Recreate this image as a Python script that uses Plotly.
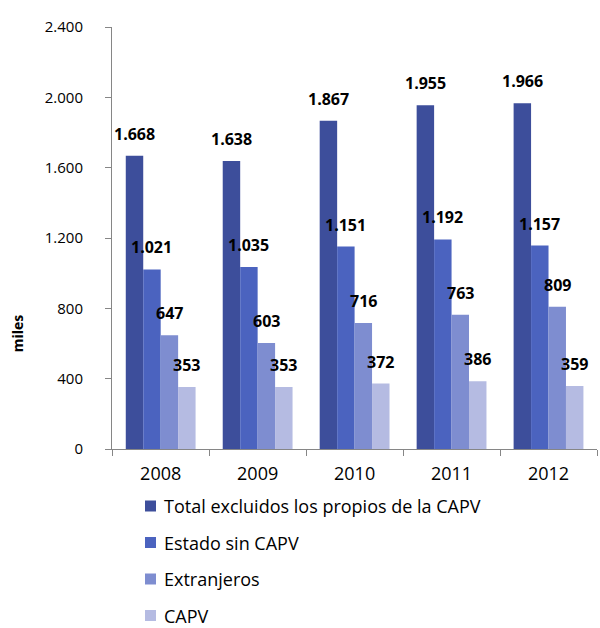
import plotly.graph_objects as go

years = ["2008", "2009", "2010", "2011", "2012"]
total_excl = [1668, 1638, 1867, 1955, 1966]
estado = [1021, 1035, 1151, 1192, 1157]
extranjeros = [647, 603, 716, 763, 809]
capv = [353, 353, 372, 386, 359]

series_names = ["Total excluidos los propios de la CAPV", "Estado sin CAPV", "Extranjeros", "CAPV"]
series_values = [total_excl, estado, extranjeros, capv]
colors = ["#3D4E9B", "#4B63BF", "#7E8DD0", "#B5BBE2"]

FONT = "Open Sans"
BARGAP = 0.28
n_series = len(series_values)
bar_w = (1 - BARGAP) / n_series

# figure geometry in pixels
W, H = 600, 628
M_L, M_R, M_T, M_B = 112, 3, 27, 179
PLOT_W = W - M_L - M_R
PLOT_H = H - M_T - M_B


def px_to_paper(px, py):
    return (px - M_L) / PLOT_W, (H - M_B - py) / PLOT_H


fig = go.Figure()
for i, (name, vals, col) in enumerate(zip(series_names, series_values, colors)):
    fig.add_trace(go.Bar(
        x=years, y=vals, name=name,
        marker=dict(color=col, line=dict(width=0)),
        showlegend=False,
    ))
    # value labels above each bar, centred on the bar
    offset = -(1 - BARGAP) / 2 + bar_w * (i + 0.5)
    for j, v in enumerate(vals):
        fig.add_annotation(
            x=j + offset, y=v, xref="x", yref="y",
            text=f"<b>{v:,}</b>".replace(",", "."),
            showarrow=False, xanchor="center", yanchor="middle", yshift=22,
            font=dict(family=FONT, size=16, color="#000000"),
        )

# legend below the plot: a colour swatch and a label per series
LEG_SWATCH_X, LEG_TEXT_X, LEG_ROW0, LEG_STEP, SW = 145, 162, 506, 36.5, 11
for i, (name, col) in enumerate(zip(series_names, colors)):
    cy = LEG_ROW0 + i * LEG_STEP
    x0, y0 = px_to_paper(LEG_SWATCH_X, cy + SW / 2)
    x1, y1 = px_to_paper(LEG_SWATCH_X + SW, cy - SW / 2)
    fig.add_shape(type="rect", xref="paper", yref="paper",
                  x0=x0, y0=y0, x1=x1, y1=y1,
                  fillcolor=col, line=dict(width=0))
    tx, ty = px_to_paper(LEG_TEXT_X, cy)
    fig.add_annotation(
        text=name, xref="paper", yref="paper", x=tx, y=ty,
        xanchor="left", yanchor="middle", showarrow=False,
        font=dict(family=FONT, size=18, color="#000000"),
    )

fig.update_layout(
    width=W, height=H,
    margin=dict(l=M_L, r=M_R, t=M_T, b=M_B, autoexpand=False),
    paper_bgcolor="white", plot_bgcolor="white",
    separators=",.",
    barmode="group", bargap=BARGAP, bargroupgap=0,
    font=dict(family=FONT, size=15, color="#000000"),
    showlegend=False,
    xaxis=dict(
        type="category",
        showline=True, linecolor="#868686", linewidth=1,
        ticks="outside", tickson="boundaries", ticklen=6, tickcolor="#868686",
        tickfont=dict(family=FONT, size=18, color="#000000"),
        ticklabelstandoff=8,
        showgrid=False, zeroline=False,
    ),
    yaxis=dict(
        range=[0, 2400], dtick=400, tick0=0,
        tickformat=",d",
        showline=True, linecolor="#868686", linewidth=1,
        ticks="outside", ticklen=6, tickcolor="#868686",
        tickfont=dict(family=FONT, size=15, color="#000000"),
        ticklabelstandoff=19,
        showgrid=False, zeroline=False,
    ),
)

fig.add_annotation(
    text="<b>miles</b>", textangle=-90,
    xref="paper", yref="paper", x=-0.193, y=0.275,
    xanchor="center", yanchor="middle", showarrow=False,
    font=dict(family=FONT, size=14, color="#000000"),
)

fig.write_html("out.html")
